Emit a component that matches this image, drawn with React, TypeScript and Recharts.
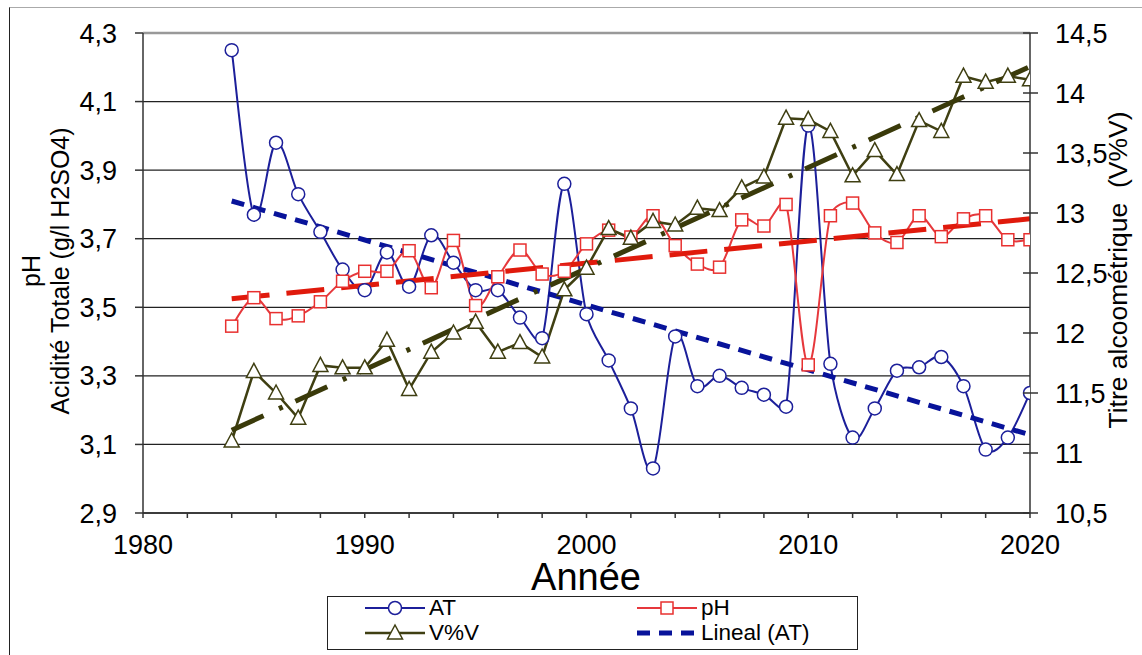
import React from 'react';
import {
  ComposedChart, Line, XAxis, YAxis, CartesianGrid, ReferenceLine,
} from 'recharts';

const years = [1984,1985,1986,1987,1988,1989,1990,1991,1992,1993,1994,1995,1996,1997,1998,1999,2000,2001,2002,2003,2004,2005,2006,2007,2008,2009,2010,2011,2012,2013,2014,2015,2016,2017,2018,2019,2020];
const atValues = [4.25,3.77,3.98,3.83,3.72,3.61,3.55,3.66,3.56,3.71,3.63,3.55,3.55,3.47,3.41,3.86,3.48,3.345,3.205,3.03,3.415,3.27,3.30,3.265,3.245,3.21,4.03,3.335,3.12,3.205,3.315,3.325,3.355,3.27,3.085,3.12,3.25];
const phValues = [3.445,3.528,3.467,3.475,3.516,3.576,3.605,3.605,3.665,3.557,3.695,3.505,3.589,3.667,3.597,3.605,3.685,3.725,3.705,3.767,3.68,3.626,3.617,3.755,3.737,3.80,3.332,3.767,3.804,3.717,3.689,3.767,3.706,3.758,3.767,3.697,3.697];
const vvValues = [11.1,11.68,11.5,11.29,11.73,11.71,11.71,11.94,11.53,11.84,12.0,12.09,11.84,11.92,11.8,12.36,12.54,12.87,12.79,12.93,12.9,13.04,13.02,13.21,13.3,13.79,13.78,13.68,13.31,13.52,13.32,13.77,13.68,14.14,14.09,14.14,14.11];

const atTrendYears = [1984, 2020];
const atTrendValues = [3.81, 3.128];
const phTrendYears = [1984, 2020];
const phTrendValues = [3.525, 3.758];
const vvTrendYears = [1984, 2020];
const vvTrendValues = [11.19, 14.22];

const xTicks = [1980,1982,1984,1986,1988,1990,1992,1994,1996,1998,2000,2002,2004,2006,2008,2010,2012,2014,2016,2018,2020];
const leftTicks = [2.9,3.1,3.3,3.5,3.7,3.9,4.1,4.3];
const rightTicks = [10.5,11,11.5,12,12.5,13,13.5,14,14.5];

const data = years.map((y, i) => ({ year: y, at: atValues[i], ph: phValues[i], vv: vvValues[i] }));
const atTrend = atTrendYears.map((y, i) => ({ year: y, v: atTrendValues[i] }));
const phTrend = phTrendYears.map((y, i) => ({ year: y, v: phTrendValues[i] }));
const vvTrend = vvTrendYears.map((y, i) => ({ year: y, v: vvTrendValues[i] }));

const AT_COLOR = '#1c1f9a';
const PH_LINE = '#e6383c';
const PH_MARK = '#e8302f';
const VV_COLOR = '#3f3f12';
const AT_TREND = '#08139a';
const PH_TREND = '#e01a0c';
const VV_TREND = '#3a3a0a';
const FONT = '"Liberation Sans", Arial, sans-serif';

// Excel-like smoothed line: Catmull-Rom tangents, arms clamped to the segment length
const excelSmooth: any = (context: any) => {
  let pts: number[][] = [];
  const K = 0.4;
  const clampArm = (vx: number, vy: number, seg: number) => {
    const len = Math.hypot(vx, vy);
    const max = seg * K;
    if (len > max && len > 0) {
      const s = max / len;
      return [vx * s, vy * s];
    }
    return [vx, vy];
  };
  return {
    areaStart() {},
    areaEnd() {},
    lineStart() { pts = []; },
    lineEnd() {
      const n = pts.length;
      if (!n) return;
      context.moveTo(pts[0][0], pts[0][1]);
      for (let i = 0; i < n - 1; i++) {
        const p0 = pts[i - 1] || pts[i];
        const p1 = pts[i];
        const p2 = pts[i + 1];
        const p3 = pts[i + 2] || p2;
        const seg = Math.hypot(p2[0] - p1[0], p2[1] - p1[1]);
        const a = clampArm((p2[0] - p0[0]) / 6, (p2[1] - p0[1]) / 6, seg);
        const b = clampArm((p3[0] - p1[0]) / 6, (p3[1] - p1[1]) / 6, seg);
        context.bezierCurveTo(p1[0] + a[0], p1[1] + a[1], p2[0] - b[0], p2[1] - b[1], p2[0], p2[1]);
      }
    },
    point(x: number, y: number) { pts.push([+x, +y]); },
  };
};

const SquareDot = (props: any) => {
  const { cx, cy, index } = props;
  if (cx == null || cy == null) return <g key={index} />;
  return <rect key={index} x={cx - 6} y={cy - 6} width={12} height={12} fill="#fff" stroke={PH_MARK} strokeWidth={1.5} />;
};
const TriDot = (props: any) => {
  const { cx, cy, index } = props;
  if (cx == null || cy == null) return <g key={index} />;
  const pts = `${cx},${cy - 8} ${cx - 7.5},${cy + 6} ${cx + 7.5},${cy + 6}`;
  return <polygon key={index} points={pts} fill="#fff" stroke={VV_COLOR} strokeWidth={1.5} />;
};

const fmt = (v: number) => (Number.isInteger(v) ? String(v) : v.toFixed(1).replace('.', ','));

const RightTick = (props: any) => {
  const { x, y, payload } = props;
  return (
    <g>
      <line x1={x - 32} x2={x - 17} y1={y} y2={y} stroke="#333" strokeWidth={1.5} />
      <text x={x} y={y} dy="0.355em" textAnchor="start" fontSize={27} fontFamily={FONT} fill="#000">{fmt(payload.value)}</text>
    </g>
  );
};

const legendRow = (top: number, left: number, icon: React.ReactNode, label: string) => (
  <div style={{ position: 'absolute', top, left, display: 'flex', alignItems: 'center', height: 24 }}>
    <svg width={62} height={24} style={{ display: 'block' }}>{icon}</svg>
    <span style={{ fontSize: 22.5, fontFamily: FONT, marginLeft: 3, lineHeight: '24px' }}>{label}</span>
  </div>
);

export default function App() {
  return (
    <div style={{ position: 'absolute', left: 0, top: 0, width: 1142, height: 655, background: '#fff', fontFamily: FONT, overflow: 'hidden' }}>
      <div style={{ position: 'absolute', left: 9, top: 7, width: 1200, height: 700, borderLeft: '1.5px solid #222', borderTop: '1.5px solid #aaa' }} />
      <ComposedChart width={1142} height={655} data={data} margin={{ top: 33, right: 0, bottom: 0, left: 0 }} style={{ position: 'absolute', left: 0, top: 0 }}>
        <CartesianGrid yAxisId="left" vertical={false} stroke="#222" strokeWidth={1.3} />
        <ReferenceLine yAxisId="left" y={4.3} stroke="#999" strokeWidth={2.5} />
        <XAxis
          dataKey="year" type="number" domain={[1980, 2020]} ticks={xTicks} interval={0}
          height={142} tickSize={5} tickMargin={17}
          tickFormatter={(v: number) => (v % 10 === 0 ? String(v) : '')}
          axisLine={{ stroke: '#333', strokeWidth: 1.5 }} tickLine={{ stroke: '#333', strokeWidth: 1.5 }}
          tick={{ fontSize: 27, fill: '#000', fontFamily: FONT }} allowDataOverflow
        />
        <YAxis
          yAxisId="left" orientation="left" width={143} domain={[2.9, 4.3]} ticks={leftTicks} interval={0}
          tickSize={8} tickMargin={18} tickFormatter={fmt}
          axisLine={{ stroke: '#333', strokeWidth: 1.5 }} tickLine={{ stroke: '#333', strokeWidth: 1.5 }}
          tick={{ fontSize: 27, fill: '#000', fontFamily: FONT }} allowDataOverflow
        />
        <YAxis
          yAxisId="right" orientation="right" width={112} domain={[10.5, 14.5]} ticks={rightTicks} interval={0}
          tickSize={8} tickMargin={17} tickLine={false} tick={<RightTick />}
          axisLine={{ stroke: '#333', strokeWidth: 1.5 }} allowDataOverflow
        />
        <Line yAxisId="left" dataKey="at" type={excelSmooth} stroke={AT_COLOR} strokeWidth={2}
          dot={{ r: 6.5, fill: '#fff', stroke: AT_COLOR, strokeWidth: 1.5 }} activeDot={false} isAnimationActive={false} />
        <Line yAxisId="left" dataKey="ph" type={excelSmooth} stroke={PH_LINE} strokeWidth={2}
          dot={<SquareDot />} activeDot={false} isAnimationActive={false} />
        <Line yAxisId="right" dataKey="vv" type="linear" stroke={VV_COLOR} strokeWidth={2.5}
          dot={<TriDot />} activeDot={false} isAnimationActive={false} />
        <Line yAxisId="left" data={atTrend} dataKey="v" type="linear" stroke={AT_TREND} strokeWidth={5}
          strokeDasharray="13 9" dot={false} activeDot={false} isAnimationActive={false} />
        <Line yAxisId="left" data={phTrend} dataKey="v" type="linear" stroke={PH_TREND} strokeWidth={5}
          strokeDasharray="38 17" dot={false} activeDot={false} isAnimationActive={false} />
        <Line yAxisId="right" data={vvTrend} dataKey="v" type="linear" stroke={VV_TREND} strokeWidth={5}
          strokeDasharray="35 17 4 14" dot={false} activeDot={false} isAnimationActive={false} />
      </ComposedChart>

      {/* axis titles */}
      <div style={{ position: 'absolute', left: 47 - 220, top: 271 - 30, width: 440, height: 60, transform: 'rotate(-90deg)', textAlign: 'center', fontSize: 25, lineHeight: '29px', color: '#000' }}>
        pH<br />Acidité Totale (g/l H2SO4)
      </div>
      <div style={{ position: 'absolute', left: 1118 - 220, top: 270 - 16, width: 440, height: 32, transform: 'rotate(-90deg)', textAlign: 'center', fontSize: 26.5, lineHeight: '32px', color: '#000', whiteSpace: 'pre' }}>
        Titre alcoométrique  (V%V)
      </div>
      <div style={{ position: 'absolute', left: 586 - 150, top: 560, width: 300, textAlign: 'center', fontSize: 38, lineHeight: '34px', color: '#000' }}>
        Année
      </div>

      {/* legend */}
      <div style={{ position: 'absolute', left: 327, top: 596, width: 531, height: 54, border: '1.5px solid #222', boxSizing: 'border-box' }}>
        {legendRow(-1, 36, <g><line x1={1} x2={61} y1={12} y2={12} stroke={AT_COLOR} strokeWidth={2} /><circle cx={31} cy={12} r={6.5} fill="#fff" stroke={AT_COLOR} strokeWidth={1.5} /></g>, 'AT')}
        {legendRow(-1, 308, <g><line x1={1} x2={61} y1={12} y2={12} stroke={PH_LINE} strokeWidth={2} /><rect x={25} y={6} width={12} height={12} fill="#fff" stroke={PH_MARK} strokeWidth={1.5} /></g>, 'pH')}
        {legendRow(24, 36, <g><line x1={1} x2={61} y1={12} y2={12} stroke={VV_COLOR} strokeWidth={2.5} /><polygon points="31,4 23.5,18 38.5,18" fill="#fff" stroke={VV_COLOR} strokeWidth={1.5} /></g>, 'V%V')}
        {legendRow(24, 308, <g><line x1={1} x2={61} y1={12} y2={12} stroke={AT_TREND} strokeWidth={5} strokeDasharray="13 9" /></g>, 'Lineal (AT)')}
      </div>
    </div>
  );
}
